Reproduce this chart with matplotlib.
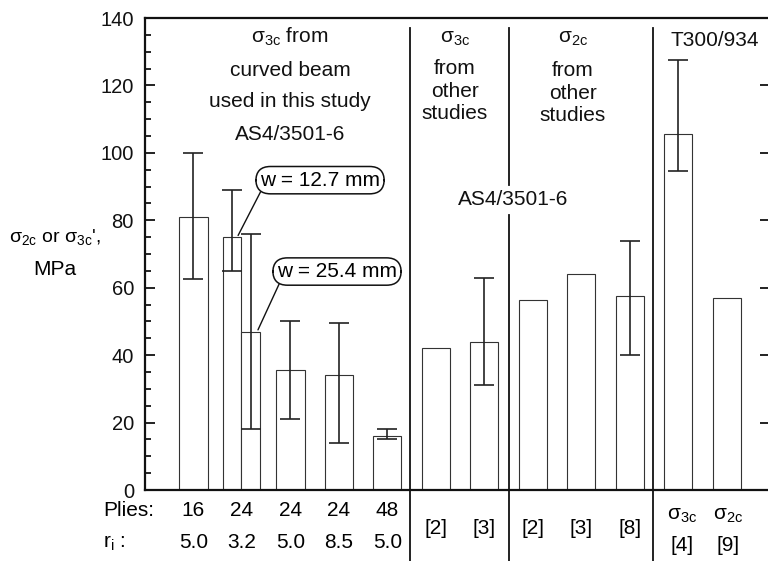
import numpy as np
import matplotlib
matplotlib.use('Agg')
import matplotlib.pyplot as plt
import matplotlib.transforms as mtransforms
from matplotlib.ticker import MultipleLocator

plt.rcParams['font.family'] = ['Liberation Sans', 'DejaVu Sans']
plt.rcParams['mathtext.fontset'] = 'custom'
plt.rcParams['mathtext.rm'] = 'Liberation Sans'
plt.rcParams['mathtext.it'] = 'Liberation Sans'
plt.rcParams['mathtext.default'] = 'regular'

# --- data (MPa) ---
strength = [81, 75, 47, 35.5, 34, 16, 42, 44, 56.5, 64, 57.5, 105.5, 57]
err_top = [100, 89, 76, 50, 49.5, 18, np.nan, 63, np.nan, np.nan, 74, 127.5, np.nan]
err_bot = [62.5, 65, 18, 21, 14, 15, np.nan, 31, np.nan, np.nan, 40, 94.5, np.nan]

plies = ['16', '24', '24', '24', '48']
r_i = ['5.0', '3.2', '5.0', '8.5', '5.0']
refs = ['[2]', '[3]', '[2]', '[3]', '[8]']
t300_props = [r'$\sigma_{3c}$', r'$\sigma_{2c}$']
t300_refs = ['[4]', '[9]']

# layout (slot positions along x)
x_pos = [1, 1.8, 2.18, 3, 4, 5, 6, 7, 8, 9, 10, 11, 12]
widths = [0.58, 0.38, 0.38, 0.58, 0.58, 0.58, 0.58, 0.58, 0.58, 0.58, 0.58, 0.58, 0.58]
sep_x = [5.47, 7.5, 10.47]
FS = 15

fig = plt.figure(figsize=(7.68, 5.61), dpi=100)
ax = fig.add_axes([145 / 768, 71 / 561, 625 / 768, 472 / 561])

ax.bar(x_pos, strength, width=widths, facecolor='white', edgecolor='#333333',
       linewidth=0.8, zorder=2)

# error bars
for x, top, bot in zip(x_pos, err_top, err_bot):
    if np.isnan(top):
        continue
    mid = (top + bot) / 2
    ax.errorbar(x, mid, yerr=[[mid - bot], [top - mid]], fmt='none',
                ecolor='#222222', elinewidth=1.2, capsize=7, capthick=1.2, zorder=3)

ax.set_xlim(0, 12.89)
ax.set_ylim(0, 140)
ax.yaxis.set_major_locator(MultipleLocator(20))
ax.yaxis.set_minor_locator(MultipleLocator(5))
ax.tick_params(axis='y', which='major', direction='in', length=7, width=1.3,
               labelsize=14.5, pad=8, right=True, colors='#111111')
ax.tick_params(axis='y', which='minor', direction='in', length=4.5, width=1.2,
               right=False)
ax.tick_params(axis='x', bottom=False, labelbottom=False)
ax.spines['right'].set_visible(False)
for s in ['left', 'top', 'bottom']:
    ax.spines[s].set_linewidth(1.6)
    ax.spines[s].set_color('#111111')

trans = mtransforms.blended_transform_factory(ax.transData, ax.transAxes)

# group separators (run down into the table below the axis)
for i, sx in enumerate(sep_x):
    if i == 1:
        ax.plot([sx, sx], [0.979, 0.646], transform=trans, color='#111111', lw=1.3, clip_on=False)
        ax.plot([sx, sx], [0.583, -0.16], transform=trans, color='#111111', lw=1.3, clip_on=False)
    else:
        ax.plot([sx, sx], [0.979, -0.16], transform=trans, color='#111111', lw=1.3, clip_on=False)

# header texts
def stack(x, ys, lines):
    for y, s in zip(ys, lines):
        ax.text(x, y, s, ha='center', va='center', fontsize=FS, color='#111111')

stack(2.99, [134.4, 124.3, 115.1, 105.5],
      [r'$\sigma_{3c}$ from', 'curved beam', 'used in this study', 'AS4/3501-6'])
stack(6.39, [133.8, 125.0, 118.2, 111.6],
      [r'$\sigma_{3c}$', 'from', 'other', 'studies'])
stack(8.82, [133.8, 124.4, 117.6, 111.0],
      [r'$\sigma_{2c}$', 'from', 'other', 'studies'])
stack(11.75, [133.2], ['T300/934'])
stack(7.59, [86.2], ['AS4/3501-6'])

# width call-outs
box = dict(boxstyle='round,pad=0.2,rounding_size=0.7', facecolor='white',
           edgecolor='#111111', linewidth=1.1)
ax.annotate('w = 12.7 mm', xy=(1.92, 75.5), xytext=(3.61, 91.9), ha='center', va='center',
            fontsize=FS, bbox=box, zorder=5,
            arrowprops=dict(arrowstyle='-', color='#111111', lw=1.0,
                            relpos=(0.03, 0.2), shrinkA=0, shrinkB=0))
ax.annotate('w = 25.4 mm', xy=(2.33, 47.5), xytext=(3.96, 64.8), ha='center', va='center',
            fontsize=FS, bbox=box, zorder=5,
            arrowprops=dict(arrowstyle='-', color='#111111', lw=1.0,
                            relpos=(0.04, 0.15), shrinkA=0, shrinkB=0))

# table below the axis
row1, row2 = -0.043, -0.112
ax.text(-0.87, row1, 'Plies:', transform=trans, ha='left', va='center', fontsize=FS)
ax.text(-0.87, row2, r'r$_{i}$ :', transform=trans, ha='left', va='center', fontsize=FS)
for i in range(5):
    ax.text(i + 1, row1, plies[i], transform=trans, ha='center', va='center', fontsize=FS)
    ax.text(i + 1, row2, r_i[i], transform=trans, ha='center', va='center', fontsize=FS)
for i, s in enumerate(refs):
    ax.text(6 + i, -0.081, s, transform=trans, ha='center', va='center', fontsize=FS)
for i in range(2):
    ax.text(11.07 + i * 0.95, -0.053, t300_props[i], transform=trans, ha='center', va='center', fontsize=FS)
    ax.text(11.07 + i * 0.95, -0.117, t300_refs[i], transform=trans, ha='center', va='center', fontsize=FS)

# y label
fig.text(55 / 768, 1 - 237 / 561, r"$\sigma_{2c}$ or $\sigma_{3c}$',", ha='center', va='center', fontsize=14)
fig.text(55 / 768, 1 - 270 / 561, 'MPa', ha='center', va='center', fontsize=FS)

fig.savefig('out.png', dpi=100)
